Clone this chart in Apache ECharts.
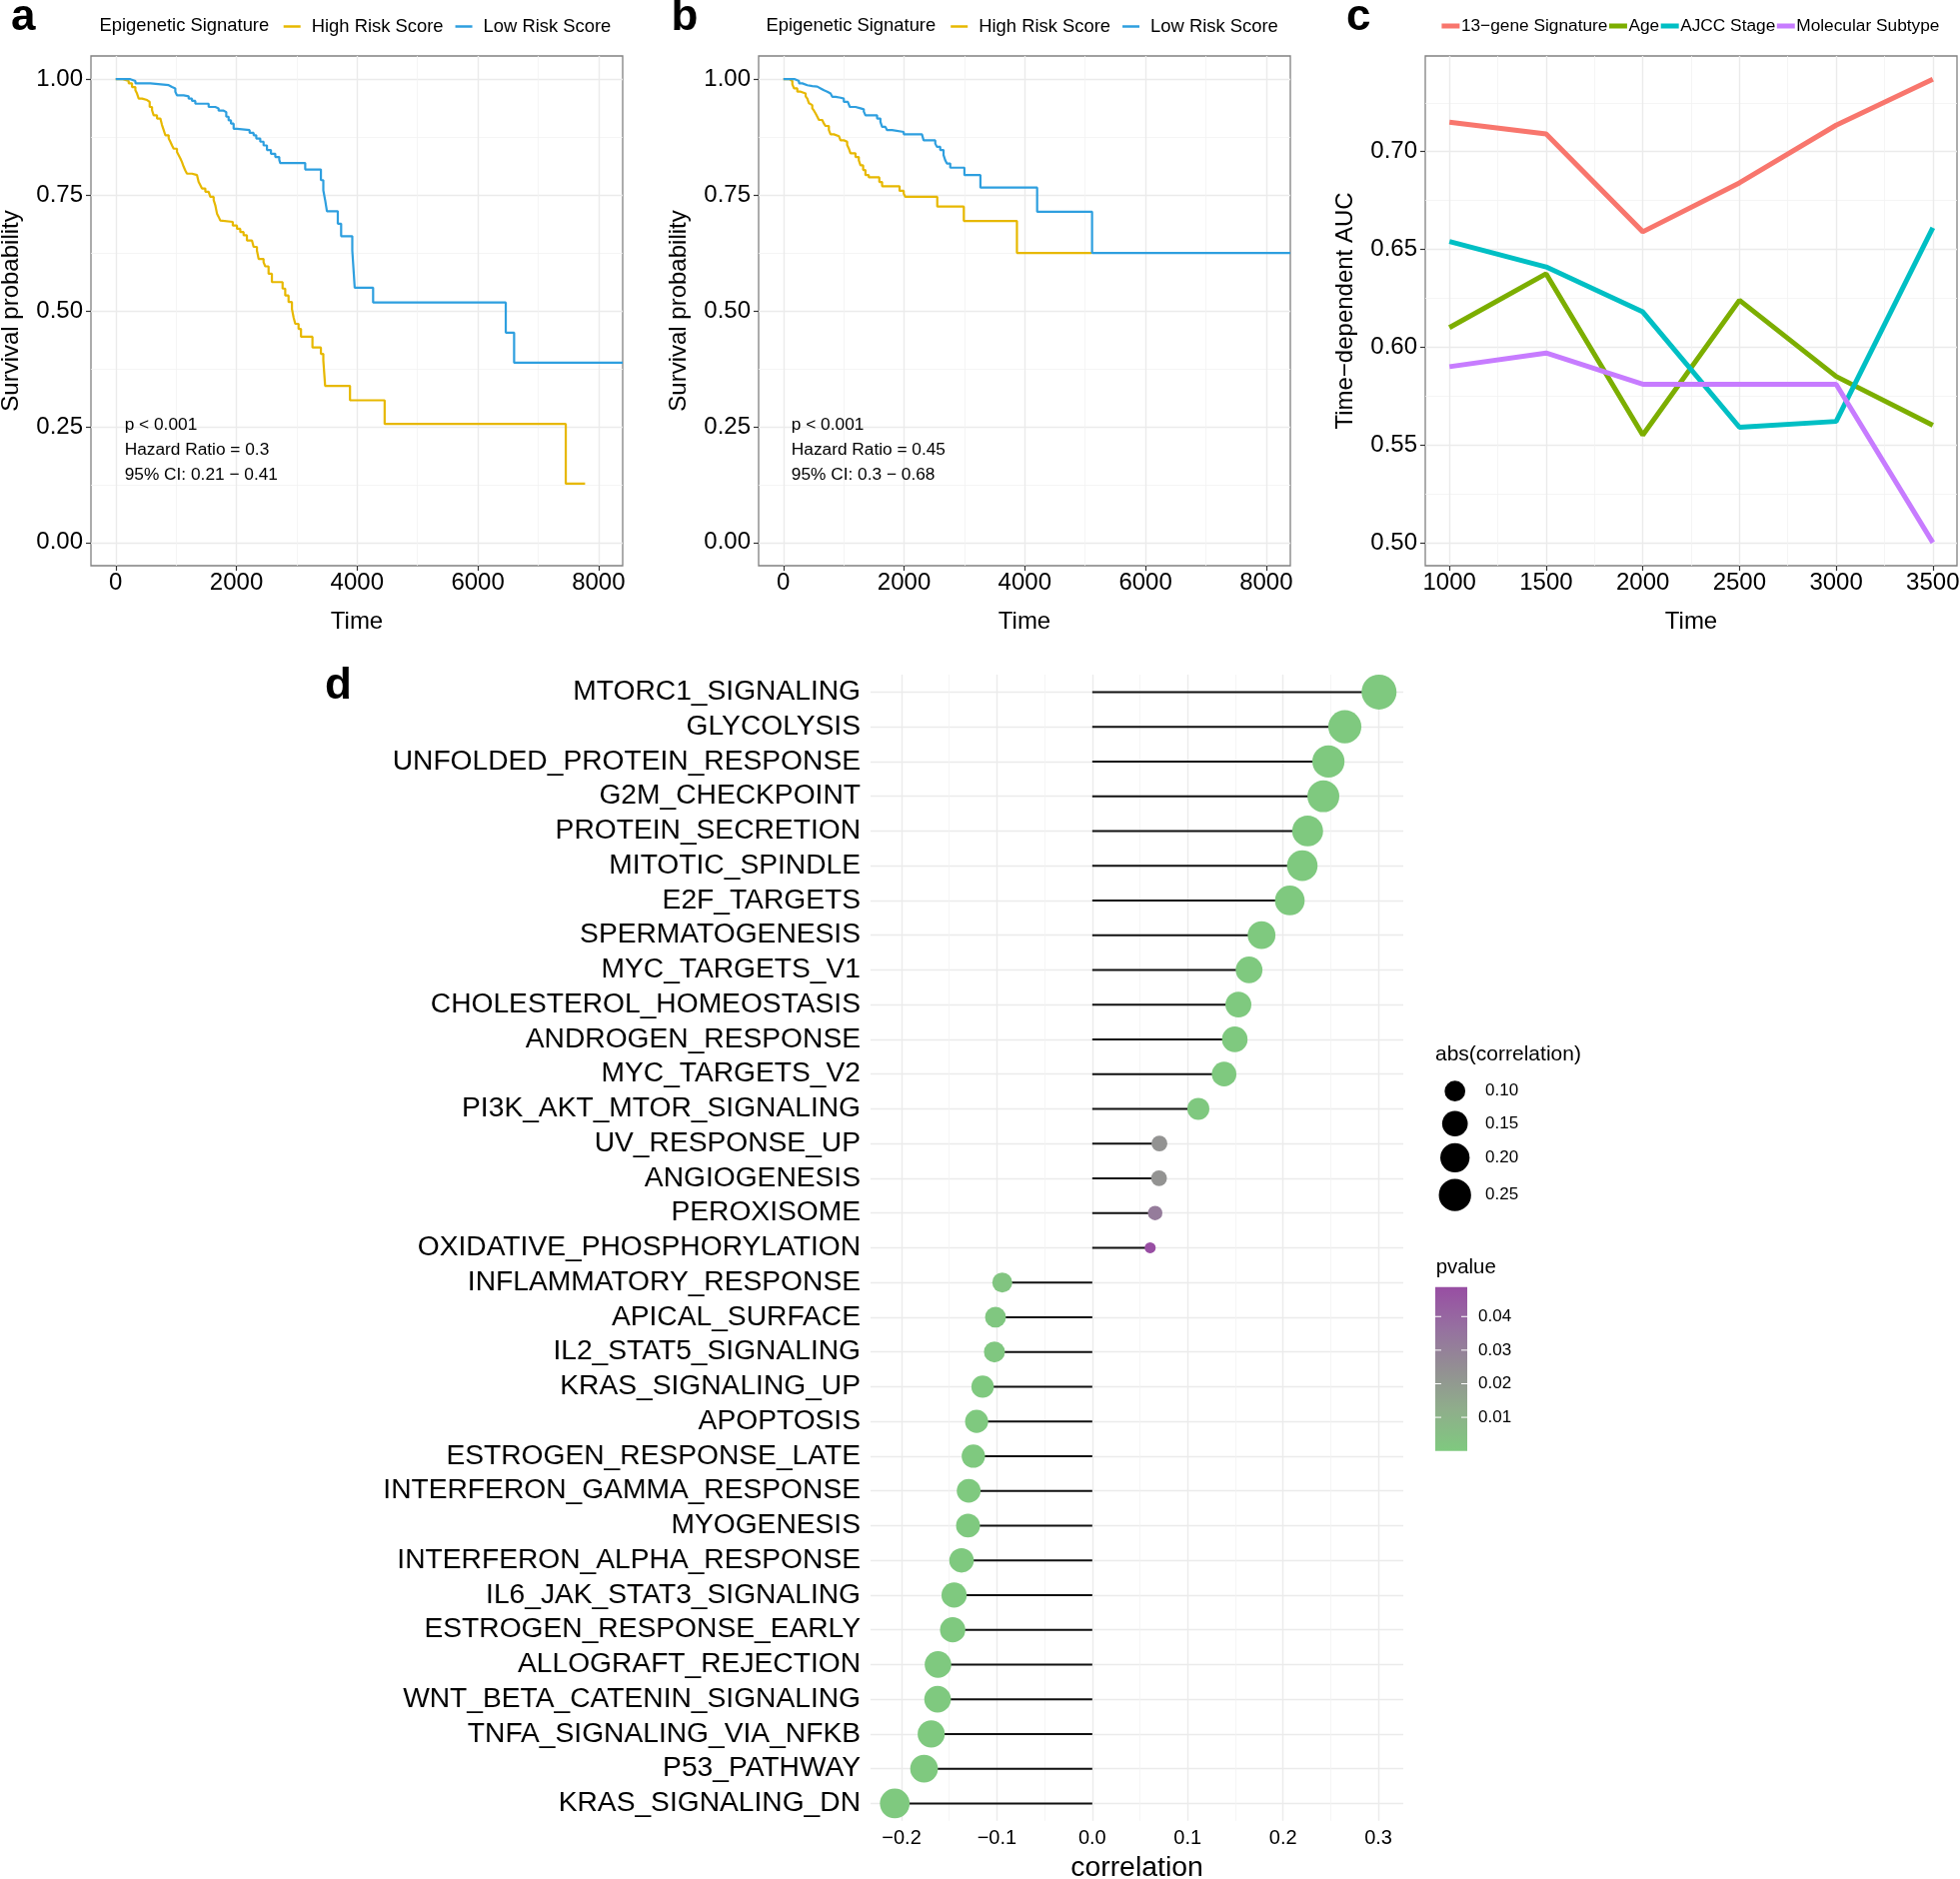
<!DOCTYPE html>
<html><head><meta charset="utf-8">
<script src="https://cdn.jsdelivr.net/npm/echarts@6/dist/echarts.min.js"></script>
<style>html,body{margin:0;padding:0;background:#fff}#chart{width:1961px;height:1880px}</style>
</head><body><div id="chart"></div>
<script>
// ---------------- DATA ----------------
// Panel a: Kaplan-Meier (time, survival after event)
const kmA_highT = [0,120,215,270,326,353,381,436,519,563,602,629,684,740,767,795,822,878,905,933,960,1015,1043,1071,1098,1126,1153,1181,1264,1347,1374,1402,1429,1485,1540,1567,1623,1650,1678,1705,1733,1761,1940,2009,2064,2119,2174,2257,2285,2340,2368,2450,2478,2533,2588,2765,2809,2864,2920,2947,2975,3030,3070,3260,3400,3440,3470,3882,4456,7457,7777];
const kmA_highS = [1,0.996,0.991,0.983,0.976,0.969,0.958,0.955,0.951,0.940,0.933,0.922,0.915,0.911,0.901,0.890,0.879,0.872,0.865,0.857,0.850,0.843,0.836,0.829,0.821,0.811,0.803,0.796,0.793,0.789,0.778,0.771,0.764,0.757,0.753,0.746,0.739,0.728,0.710,0.703,0.695,0.692,0.684,0.677,0.670,0.663,0.652,0.648,0.638,0.630,0.612,0.605,0.596,0.580,0.562,0.548,0.533,0.519,0.504,0.486,0.472,0.461,0.444,0.421,0.407,0.393,0.338,0.307,0.256,0.127,0.127];
const kmA_lowT = [0,243,326,574,878,933,988,1015,1126,1209,1264,1319,1540,1650,1705,1788,1832,1871,1910,1954,2009,2219,2285,2329,2395,2450,2506,2572,2644,2710,2726,3140,3400,3440,3470,3500,3680,3735,3920,3945,3960,4265,6463,6601,8400];
const kmA_lowS = [1,0.996,0.991,0.987,0.983,0.980,0.973,0.965,0.963,0.958,0.953,0.947,0.940,0.937,0.932,0.929,0.919,0.911,0.904,0.893,0.890,0.884,0.879,0.872,0.865,0.857,0.847,0.839,0.832,0.826,0.819,0.805,0.782,0.760,0.739,0.715,0.688,0.661,0.630,0.580,0.550,0.518,0.453,0.388,0.388];
// Panel b
const kmB_highT = [0,100,149,176,231,286,369,397,424,452,479,507,534,562,589,644,672,699,754,782,837,920,947,1002,1057,1085,1112,1195,1250,1278,1322,1360,1415,1590,1636,1925,1994,2021,2550,2990,3870,5105];
const kmB_highS = [1,0.996,0.989,0.980,0.973,0.969,0.963,0.958,0.948,0.944,0.937,0.932,0.926,0.919,0.912,0.908,0.904,0.899,0.890,0.881,0.877,0.874,0.868,0.865,0.858,0.850,0.840,0.832,0.825,0.814,0.804,0.793,0.788,0.778,0.769,0.759,0.753,0.746,0.725,0.694,0.625,0.625];
const kmB_lowT = [0,190,259,314,397,479,562,617,672,727,782,810,865,947,1002,1068,1101,1195,1278,1333,1360,1553,1608,1636,1691,1718,1801,1994,2296,2324,2517,2544,2599,2654,2682,2709,2765,3000,3265,4205,5115,8400];
const kmB_lowS = [1,0.996,0.991,0.987,0.985,0.984,0.980,0.976,0.973,0.969,0.966,0.962,0.960,0.958,0.951,0.948,0.940,0.937,0.935,0.930,0.922,0.915,0.908,0.897,0.894,0.890,0.886,0.881,0.877,0.868,0.861,0.854,0.847,0.836,0.825,0.818,0.809,0.793,0.766,0.714,0.625,0.625];
const kmTicksX = [0,2000,4000,6000,8000];
const kmMinorX = [1000,3000,5000,7000];
const kmTicksY = [0,0.25,0.5,0.75,1];
const kmMinorY = [0.125,0.375,0.625,0.875];
const kmGroups = ['High Risk Score','Low Risk Score'];

// Panel c: time-dependent AUC
const aucTimes = [1000,1500,2000,2500,3000,3500];
const aucSignature = [0.715,0.709,0.659,0.684,0.7135,0.737];
const aucAge = [0.610,0.6375,0.555,0.624,0.585,0.560];
const aucAJCC = [0.654,0.641,0.618,0.559,0.562,0.661];
const aucSubtype = [0.590,0.597,0.581,0.581,0.581,0.500];
const aucNames = ['13\u2212gene Signature','Age','AJCC Stage','Molecular Subtype'];
const aucTicksX = [1000,1500,2000,2500,3000,3500];
const aucMinorX = [1250,1750,2250,2750,3250];
const aucTicksY = [0.50,0.55,0.60,0.65,0.70];
const aucMinorY = [0.525,0.575,0.625,0.675,0.725];

// Panel d: lollipop of correlations
const pathways = ['MTORC1_SIGNALING','GLYCOLYSIS','UNFOLDED_PROTEIN_RESPONSE','G2M_CHECKPOINT','PROTEIN_SECRETION','MITOTIC_SPINDLE','E2F_TARGETS','SPERMATOGENESIS','MYC_TARGETS_V1','CHOLESTEROL_HOMEOSTASIS','ANDROGEN_RESPONSE','MYC_TARGETS_V2','PI3K_AKT_MTOR_SIGNALING','UV_RESPONSE_UP','ANGIOGENESIS','PEROXISOME','OXIDATIVE_PHOSPHORYLATION','INFLAMMATORY_RESPONSE','APICAL_SURFACE','IL2_STAT5_SIGNALING','KRAS_SIGNALING_UP','APOPTOSIS','ESTROGEN_RESPONSE_LATE','INTERFERON_GAMMA_RESPONSE','MYOGENESIS','INTERFERON_ALPHA_RESPONSE','IL6_JAK_STAT3_SIGNALING','ESTROGEN_RESPONSE_EARLY','ALLOGRAFT_REJECTION','WNT_BETA_CATENIN_SIGNALING','TNFA_SIGNALING_VIA_NFKB','P53_PATHWAY','KRAS_SIGNALING_DN'];
const correlation = [0.3007,0.2648,0.2476,0.2423,0.2258,0.2202,0.2071,0.1775,0.1644,0.1532,0.1494,0.1382,0.1112,0.0704,0.0700,0.0659,0.0607,-0.0944,-0.1015,-0.1026,-0.1150,-0.1213,-0.1247,-0.1296,-0.1303,-0.1371,-0.1449,-0.1464,-0.1618,-0.1622,-0.1689,-0.1764,-0.2071];
const pvalue = [0,0,0,0,0,0,0,0,0,0,0,0,0.0003,0.023,0.023,0.032,0.0488,0.002,0.001,0.001,0.0002,0.0001,0.0001,0,0,0,0,0,0,0,0,0,0];
const corrTicks = [-0.2,-0.1,0,0.1,0.2,0.3];
const corrMinor = [-0.15,-0.05,0.05,0.15,0.25];
const sizeLegendValues = [0.10,0.15,0.20,0.25];
const pLegendTicks = [0.01,0.02,0.03,0.04];
const pColorStops = ['#7FC97F','#8FAE8B','#938F93','#9670A0','#984EA3'];

// ---------------- HELPERS ----------------
const FONT = "'Liberation Sans', Arial, Helvetica, sans-serif";
const GMAJ = '#EBEBEB', GMIN = '#F3F3F3';
const zip = (a, b) => a.map((v, i) => [v, b[i]]);
const absC = correlation.map(Math.abs);
const sMin = Math.min(...absC), sMax = Math.max(...absC);
const pMin = 0, pMax = Math.max(...pvalue);
const dotSize = v => 11 + 24 * Math.sqrt(Math.max(0, (Math.abs(v) - sMin) / (sMax - sMin)));

function majorX(g, min, max, ticks) {
  return { type:'value', gridIndex:g, min, max,
    axisLine:{show:false, onZero:false},
    axisTick:{show:true, length:5, lineStyle:{color:'#333', width:1.2}, customValues:ticks},
    axisLabel:{customValues:ticks, fontSize:24, color:'#000', margin:5, fontFamily:FONT, formatter:v => String(v)},
    splitLine:{show:true, lineStyle:{color:GMAJ, width:1.4}},
    name:'Time', nameLocation:'middle', nameGap:44, nameTextStyle:{fontSize:24, color:'#000', fontFamily:FONT} };
}
function minorAxis(g, min, max, ticks, pos) {
  return { type:'value', gridIndex:g, min, max, position:pos,
    axisLine:{show:false, onZero:false}, axisTick:{show:false, customValues:ticks}, axisLabel:{show:false},
    splitLine:{show:true, lineStyle:{color:GMIN, width:0.8}} };
}
function majorY(g, min, max, ticks, name) {
  return { type:'value', gridIndex:g, min, max,
    axisLine:{show:false, onZero:false},
    axisTick:{show:true, length:5, lineStyle:{color:'#333', width:1.2}, customValues:ticks},
    axisLabel:{customValues:ticks, fontSize:24, color:'#000', margin:8, fontFamily:FONT, formatter:v => v.toFixed(2)},
    splitLine:{show:true, lineStyle:{color:GMAJ, width:1.4}},
    name, nameLocation:'middle', nameGap:68, nameTextStyle:{fontSize:24, color:'#000', fontFamily:FONT} };
}
const kmColors = ['#E7B800','#2E9FDF'];
function kmSeries(xi, yi, name, t, s, color) {
  return { type:'line', name, xAxisIndex:xi, yAxisIndex:yi, step:'end', showSymbol:false, symbol:'none',
    data: zip(t, s), lineStyle:{width:2.2, color}, itemStyle:{color}, z:5 };
}
const aucColors = ['#F8766D','#7CAE00','#00BFC4','#C77CFF'];
const aucSeriesData = [aucSignature, aucAge, aucAJCC, aucSubtype];

const gridBox = {show:true, borderColor:'#808080', borderWidth:1.3, backgroundColor:'transparent', outerBoundsMode:'none', containLabel:false};
const rowH = 34.75;

const kmXmin = -410, kmXmax = 8400, kmYmin = -0.05, kmYmax = 1.05;
const cXmin = 875, cXmax = 3625, cYmin = 0.4882, cYmax = 0.7489;
const dXmin = -0.2325, dXmax = 0.3261;

// ---------------- GRAPHICS (labels, annotations, legends) ----------------
const graphics = [];
function txt(text, x, y, size, opts) {
  const el = { type:'text', silent:true, z:100,
    style:{ text, x, y, fontSize:size, fontFamily:FONT, fill:'#000', align:'left', verticalAlign:'middle' } };
  if (opts) Object.assign(el.style, opts);
  graphics.push(el);
}
txt('a', 11, 18, 44, {fontWeight:'bold'});
txt('b', 671.5, 18, 44, {fontWeight:'bold'});
txt('c', 1347, 18, 44, {fontWeight:'bold'});
txt('d', 325, 686.5, 44, {fontWeight:'bold'});
txt('Epigenetic Signature', 99.5, 26, 18.4);
txt('Epigenetic Signature', 766.5, 26, 18.4);
const annA = ['p < 0.001','Hazard Ratio = 0.3','95% CI: 0.21 \u2212 0.41'];
const annB = ['p < 0.001','Hazard Ratio = 0.45','95% CI: 0.3 \u2212 0.68'];
annA.forEach((t,i) => txt(t, 124.7, 425.7 + i*24.9, 17.3));
annB.forEach((t,i) => txt(t, 791.8, 425.7 + i*24.9, 17.3));
// size legend
txt('abs(correlation)', 1436, 1055, 21);
const sizeLegY = [1091.7,1124.3,1158.3,1195.7];
sizeLegendValues.forEach((v,i) => {
  graphics.push({type:'circle', silent:true, z:100, shape:{cx:1455.7, cy:sizeLegY[i], r:dotSize(v)/2}, style:{fill:'#000'}});
  txt(v.toFixed(2), 1486, sizeLegY[i], 17);
});
// pvalue colour bar
txt('pvalue', 1436.7, 1268.3, 20.4);
const barX = 1436, barY = 1287.7, barW = 32, barH = 164;
graphics.push({type:'rect', silent:true, z:100, shape:{x:barX, y:barY, width:barW, height:barH},
  style:{fill: new echarts.graphic.LinearGradient(0,1,0,0, pColorStops.map((c,i)=>({offset:i/(pColorStops.length-1), color:c})))}});
pLegendTicks.forEach(v => {
  const y = barY + (pMax - v) / (pMax - pMin) * barH;
  graphics.push({type:'line', silent:true, z:101, shape:{x1:barX, y1:y, x2:barX+6, y2:y}, style:{stroke:'#fff', lineWidth:1}});
  graphics.push({type:'line', silent:true, z:101, shape:{x1:barX+barW-6, y1:y, x2:barX+barW, y2:y}, style:{stroke:'#fff', lineWidth:1}});
  txt(v.toFixed(2), 1479, y, 17);
});

// ---------------- OPTION ----------------
const option = {
  animation:false,
  backgroundColor:'#fff',
  textStyle:{fontFamily:FONT},
  grid:[
    Object.assign({left:91, top:56, width:532, height:510}, gridBox),
    Object.assign({left:759, top:56, width:532, height:510}, gridBox),
    Object.assign({left:1426, top:56, width:532, height:510}, gridBox),
    {left:871, top:692.4 - rowH/2, width:533, height:rowH*pathways.length, show:false, outerBoundsMode:'none', containLabel:false}
  ],
  xAxis:[
    majorX(0, kmXmin, kmXmax, kmTicksX), minorAxis(0, kmXmin, kmXmax, kmMinorX, 'bottom'),
    majorX(1, kmXmin, kmXmax, kmTicksX), minorAxis(1, kmXmin, kmXmax, kmMinorX, 'bottom'),
    majorX(2, cXmin, cXmax, aucTicksX), minorAxis(2, cXmin, cXmax, aucMinorX, 'bottom'),
    { type:'value', gridIndex:3, min:dXmin, max:dXmax,
      axisLine:{show:false, onZero:false}, axisTick:{show:false, customValues:corrTicks},
      axisLabel:{customValues:corrTicks, fontSize:20, color:'#000', margin:8, fontFamily:FONT,
        formatter:v => (v < 0 ? '\u2212' : '') + Math.abs(v).toFixed(1)},
      splitLine:{show:true, lineStyle:{color:GMAJ, width:1.4}},
      name:'correlation', nameLocation:'middle', nameGap:32, nameTextStyle:{fontSize:28.4, color:'#000', fontFamily:FONT} },
    minorAxis(3, dXmin, dXmax, corrMinor, 'bottom')
  ],
  yAxis:[
    majorY(0, kmYmin, kmYmax, kmTicksY, 'Survival probability'), minorAxis(0, kmYmin, kmYmax, kmMinorY, 'left'),
    majorY(1, kmYmin, kmYmax, kmTicksY, 'Survival probability'), minorAxis(1, kmYmin, kmYmax, kmMinorY, 'left'),
    majorY(2, cYmin, cYmax, aucTicksY, 'Time\u2212dependent AUC'), minorAxis(2, cYmin, cYmax, aucMinorY, 'left'),
    { type:'category', gridIndex:3, data:pathways, inverse:true, boundaryGap:true,
      axisLine:{show:false, onZero:false}, axisTick:{show:false},
      axisLabel:{fontSize:28.2, color:'#000', margin:10, fontFamily:FONT, interval:0},
      splitLine:{show:false} },
    { type:'value', gridIndex:3, min:-0.5, max:pathways.length - 0.5, inverse:true, position:'left',
      axisLine:{show:false, onZero:false}, axisLabel:{show:false},
      axisTick:{show:false, customValues:pathways.map((_, i) => i)},
      splitLine:{show:true, lineStyle:{color:GMAJ, width:1.4}} }
  ],
  legend:[
    { left:283.7, top:17.5, padding:0, itemWidth:17, itemHeight:2.5, itemGap:12, icon:'rect', data:kmGroups,
      textStyle:{fontSize:18.4, color:'#000', fontFamily:FONT, padding:[0,0,0,6]} },
    { left:951.2, top:17.5, padding:0, itemWidth:17, itemHeight:2.5, itemGap:12, icon:'rect', data:kmGroups,
      textStyle:{fontSize:18.4, color:'#000', fontFamily:FONT, padding:[0,0,0,6]} },
    { left:1442.4, top:17.5, padding:0, itemWidth:18, itemHeight:5, itemGap:1.5, icon:'rect', data:aucNames,
      textStyle:{fontSize:17.3, color:'#000', fontFamily:FONT, padding:[0,0,0,-3.5]} }
  ],
  visualMap:[{ type:'continuous', show:false, min:pMin, max:pMax, dimension:2, seriesIndex:9,
    inRange:{color:pColorStops} }],
  series:[
    kmSeries(0, 0, kmGroups[0], kmA_highT, kmA_highS, kmColors[0]),
    kmSeries(0, 0, kmGroups[1], kmA_lowT, kmA_lowS, kmColors[1]),
    kmSeries(2, 2, kmGroups[0], kmB_highT, kmB_highS, kmColors[0]),
    kmSeries(2, 2, kmGroups[1], kmB_lowT, kmB_lowS, kmColors[1]),
    ...aucNames.map((n, k) => ({ type:'line', name:n, xAxisIndex:4, yAxisIndex:4, showSymbol:false, symbol:'none',
      data: zip(aucTimes, aucSeriesData[k]), lineStyle:{width:5, color:aucColors[k]}, itemStyle:{color:aucColors[k]}, z:5 })),
    { type:'bar', name:'segment', xAxisIndex:6, yAxisIndex:6, data:correlation, barWidth:2,
      itemStyle:{color:'#111'}, z:4 },
    { type:'scatter', name:'correlation', xAxisIndex:6, yAxisIndex:6,
      data: correlation.map((v, i) => [v, pathways[i], pvalue[i]]),
      symbolSize: val => dotSize(val[0]), itemStyle:{opacity:1}, z:6 }
  ],
  graphic: { elements: graphics }
};
const chart = echarts.init(document.getElementById('chart'), null, {renderer:'canvas', width:1961, height:1880});
chart.setOption(option);
</script></body></html>
